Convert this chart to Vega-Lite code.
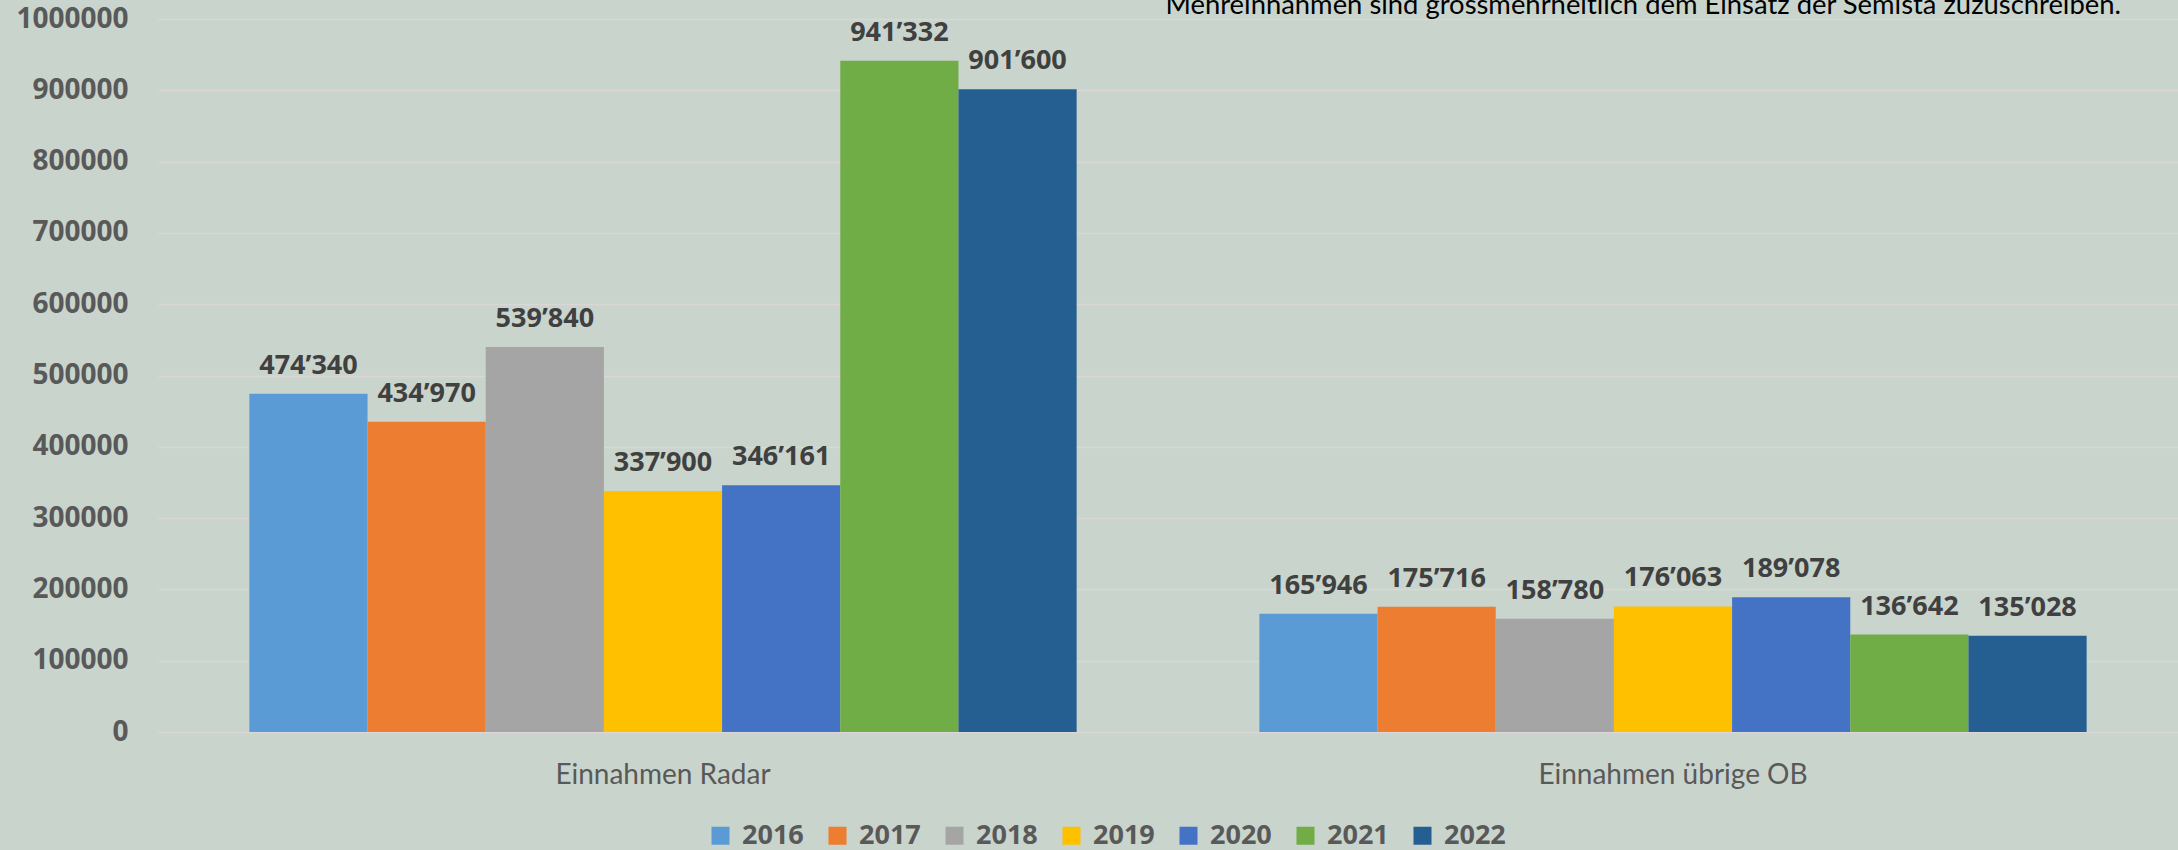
{
  "$schema": "https://vega.github.io/schema/vega-lite/v6.json",
  "width": 2020,
  "height": 713,
  "autosize": {"type": "none"},
  "padding": {"left": 158, "top": 19, "right": 0, "bottom": 118},
  "background": "#c9d4cc",
  "title": {
    "text": "Mehreinnahmen sind grossmehrheitlich dem Einsatz der Semista zuzuschreiben.",
    "anchor": "end",
    "frame": "group",
    "orient": "top",
    "baseline": "alphabetic",
    "offset": -36,
    "dx": -57,
    "font": "Lato",
    "fontSize": 27.4,
    "fontWeight": "normal",
    "color": "#000000"
  },
  "config": {
    "view": {"stroke": null},
    "font": "Lato",
    "locale": {"number": {"decimal": ".", "thousands": "’", "grouping": [3], "currency": ["", ""]}}
  },
  "data": {
    "values": [
      {"Kategorie": "Einnahmen Radar", "Jahr": "2016", "Wert": 474340},
      {"Kategorie": "Einnahmen Radar", "Jahr": "2017", "Wert": 434970},
      {"Kategorie": "Einnahmen Radar", "Jahr": "2018", "Wert": 539840},
      {"Kategorie": "Einnahmen Radar", "Jahr": "2019", "Wert": 337900},
      {"Kategorie": "Einnahmen Radar", "Jahr": "2020", "Wert": 346161},
      {"Kategorie": "Einnahmen Radar", "Jahr": "2021", "Wert": 941332},
      {"Kategorie": "Einnahmen Radar", "Jahr": "2022", "Wert": 901600},
      {"Kategorie": "Einnahmen übrige OB", "Jahr": "2016", "Wert": 165946},
      {"Kategorie": "Einnahmen übrige OB", "Jahr": "2017", "Wert": 175716},
      {"Kategorie": "Einnahmen übrige OB", "Jahr": "2018", "Wert": 158780},
      {"Kategorie": "Einnahmen übrige OB", "Jahr": "2019", "Wert": 176063},
      {"Kategorie": "Einnahmen übrige OB", "Jahr": "2020", "Wert": 189078},
      {"Kategorie": "Einnahmen übrige OB", "Jahr": "2021", "Wert": 136642},
      {"Kategorie": "Einnahmen übrige OB", "Jahr": "2022", "Wert": 135028}
    ]
  },
  "encoding": {
    "x": {
      "field": "Kategorie",
      "type": "nominal",
      "sort": null,
      "scale": {"paddingInner": 0, "paddingOuter": 0},
      "axis": {
        "title": null,
        "labelAngle": 0,
        "ticks": false,
        "domain": false,
        "grid": false,
        "labelLimit": 0,
        "labelFont": "Lato",
        "labelFontSize": 28,
        "labelFontWeight": "normal",
        "labelColor": "#595959",
        "labelPadding": 29
      }
    },
    "xOffset": {
      "field": "Jahr",
      "type": "nominal",
      "scale": {"paddingInner": 0, "paddingOuter": 0.773}
    },
    "y": {
      "field": "Wert",
      "type": "quantitative",
      "scale": {"domain": [0, 1000000], "nice": false},
      "axis": {
        "title": null,
        "values": [0, 100000, 200000, 300000, 400000, 500000, 600000, 700000, 800000, 900000, 1000000],
        "format": "d",
        "ticks": false,
        "domain": false,
        "labelLimit": 0,
        "labelFont": "Open Sans",
        "labelFontSize": 28,
        "labelFontWeight": "bold",
        "labelColor": "#595959",
        "labelPadding": 30,
        "gridColor": "#dcd6d8",
        "gridWidth": 1.5,
        "gridOpacity": 1
      }
    }
  },
  "layer": [
    {
      "mark": {"type": "bar"},
      "encoding": {
        "color": {
          "field": "Jahr",
          "type": "nominal",
          "scale": {
            "domain": ["2016", "2017", "2018", "2019", "2020", "2021", "2022"],
            "range": ["#5B9BD5", "#ED7D31", "#A5A5A5", "#FFC000", "#4472C4", "#70AD47", "#255E91"]
          },
          "legend": {
            "orient": "none",
            "legendX": 549,
            "legendY": 803,
            "direction": "horizontal",
            "title": null,
            "symbolType": "square",
            "symbolSize": 324,
            "symbolStrokeWidth": 0,
            "labelFont": "Open Sans",
            "labelFontSize": 27,
            "labelFontWeight": "bold",
            "labelColor": "#595959",
            "labelOffset": 8,
            "columnPadding": 20
          }
        }
      }
    },
    {
      "mark": {"type": "text", "dy": -20, "baseline": "alphabetic", "font": "Open Sans", "fontWeight": "bold", "fontSize": 27, "color": "#404040"},
      "encoding": {
        "text": {"field": "Wert", "type": "quantitative", "format": ",d"}
      }
    }
  ]
}
